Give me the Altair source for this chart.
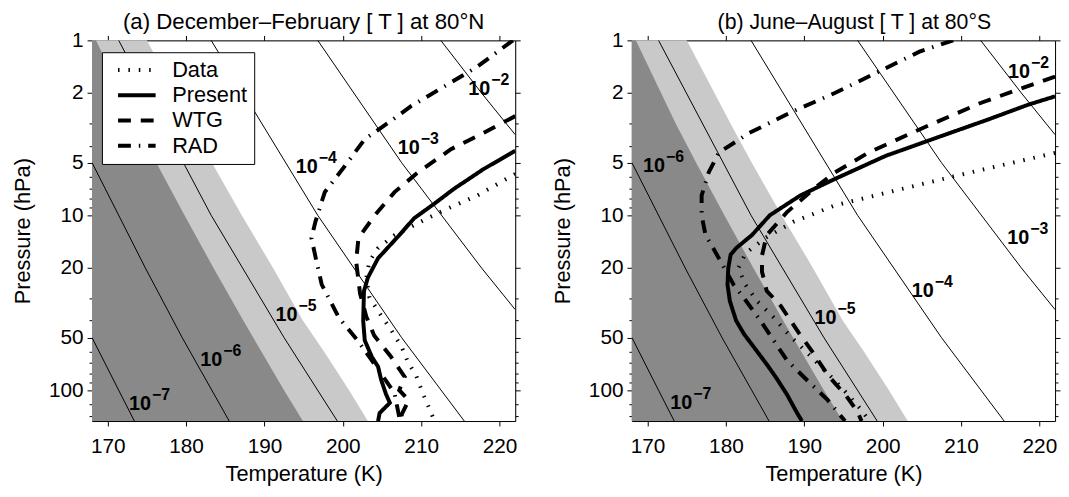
import altair as alt
import pandas as pd

FONT = "Liberation Sans"

T_MIN, T_MAX = 168, 222
P_MIN, P_MAX = 1, 150
X_TICKS = [170, 180, 190, 200, 210, 220]
Y_TICKS = [1, 2, 3, 4, 5, 6, 7, 8, 9, 10, 20, 30, 40, 50, 60, 70, 80, 90, 100, 120, 140]

# shaded regions (boundaries)
shade_p = [1, 1, 3, 5, 10, 20, 40, 60, 100, 150]
ice_T = [168.0, 168.5, 173.6, 176.2, 179.8, 183.5, 187.3, 189.6, 192.5, 194.9]
nat_T = [168.0, 175.0, 180.6, 183.3, 187.1, 191.1, 194.9, 197.6, 200.8, 203.2]

# thin isolines
iso_names = ["-7", "-6", "-5", "-4", "-3", "-2"]
iso_T = [
    [168.0, 171.4, 173.4],
    [168.0, 174.8, 179.5, 185.5],
    [171.4, 183.2, 192.5, 199.3],
    [183.2, 196.8, 207.5, 215.5],
    [196.8, 207.5, 217.7, 222.0],
    [212.5, 217.7, 222.0],
]
iso_p = [
    [50, 100, 150],
    [5, 20, 50, 150],
    [1, 10, 50, 150],
    [1, 10, 50, 150],
    [1, 5, 20, 34.6],
    [1, 2, 3.46],
]

series_names = ["Data", "Present", "WTG", "RAD"]

# panel (a) December-February, 80N
a_data_T = [222.0, 220.9, 217.2, 213.4, 210.8, 206.6, 204.5, 203.4, 203.0, 203.4, 204.9, 206.2, 207.5, 208.3, 209.4, 210.2, 211.1, 211.7]
a_data_p = [5.8, 6.19, 7.69, 9.14, 10.4, 13.0, 15.4, 18.3, 22.7, 29.5, 37.5, 45.5, 56.5, 68.8, 83.5, 104, 129, 150]
a_present_T = [222.0, 218.0, 214.2, 211.7, 209.1, 207.2, 204.5, 203.2, 202.7, 202.6, 202.8, 203.7, 204.5, 204.9, 205.5, 206.0, 204.7, 204.5]
a_present_p = [4.28, 5.43, 7.05, 8.57, 10.4, 13.0, 17.6, 22.7, 27.1, 40.0, 51.9, 64.4, 73.4, 87.4, 105, 118, 135, 150]
a_wtg_T = [222.0, 218.0, 213.8, 209.6, 206.6, 204.1, 202.0, 201.7, 202.2, 203.0, 204.0, 206.1, 207.9, 207.2, 208.4, 207.5, 207.6]
a_wtg_p = [2.71, 3.37, 4.19, 5.68, 7.37, 9.97, 13.5, 18.3, 28.0, 38.0, 48.6, 63.9, 84.0, 100, 114, 138, 150]
a_rad_T = [221.7, 217.1, 212.9, 208.7, 205.8, 202.8, 200.3, 197.7, 196.5, 196.0, 196.6, 197.3, 199.5, 201.9, 204.3, 206.6, 207.3]
a_rad_p = [1.0, 1.42, 1.84, 2.38, 2.96, 3.67, 5.2, 7.37, 10.9, 13.5, 18.0, 24.8, 38.5, 52.0, 73.8, 104, 150]

# panel (b) June-August, 80S
b_data_T = [222.0, 211.2, 202.5, 193.9, 188.6, 185.0, 182.5, 181.6, 182.5, 184.0, 186.0, 188.0, 190.5, 193.0, 195.5, 197.3, 198.3]
b_data_p = [4.4, 5.69, 7.06, 8.78, 10.9, 13.5, 16.5, 20, 25, 31, 38, 48, 62, 80, 105, 130, 150]
b_present_T = [222.0, 218.6, 213.4, 206.9, 200.4, 193.9, 189.5, 185.6, 183.3, 181.3, 180.6, 180.3, 180.2, 180.5, 181.3, 182.3, 183.9, 185.3, 186.5, 187.8, 189.0, 189.7]
b_present_p = [2.09, 2.33, 2.84, 3.60, 4.57, 6.2, 7.7, 10.0, 13.0, 15.4, 16.8, 20.0, 24.9, 30.9, 40.0, 47.7, 59.4, 72, 86, 106, 133, 150]
b_wtg_T = [222.0, 217.7, 212.5, 204.7, 198.2, 193.9, 191.7, 187.8, 185.2, 184.6, 184.6, 185.2, 187.0, 189.3, 191.0, 193.1, 195.3, 196.8, 197.3]
b_wtg_p = [1.61, 1.88, 2.28, 3.23, 4.38, 5.69, 6.77, 9.58, 13.0, 17.0, 21.0, 27.0, 33.0, 47.0, 60.0, 83.0, 107, 133, 150]
b_rad_T = [209.0, 204.7, 199.5, 193.9, 188.6, 183.0, 179.1, 177.8, 176.9, 176.9, 177.4, 178.4, 179.8, 181.0, 182.6, 184.4, 186.1, 187.8, 190.4, 193.0, 195.2]
b_rad_p = [1.0, 1.16, 1.51, 2.0, 2.54, 3.38, 4.38, 5.69, 7.7, 10.0, 13.0, 15.5, 20.0, 25.0, 31.0, 40.0, 52.0, 67.6, 88.0, 114, 150]

# isoline labels: exponent, T, p
a_lab_exp = ["-7", "-6", "-5", "-4", "-3", "-2"]
a_lab_T = [175.2, 184.3, 193.9, 196.5, 209.5, 218.5]
a_lab_p = [115, 64.3, 35.8, 5.09, 3.97, 1.82]
b_lab_exp = ["-2", "-3", "-4", "-5", "-6", "-7"]
b_lab_T = [218.5, 218.4, 206.2, 193.8, 171.9, 175.4]
b_lab_p = [1.46, 13.0, 26.2, 37.2, 5.02, 114]


def lines_frame(names, Ts, ps):
    rows = []
    for n, tl, pl in zip(names, Ts, ps):
        for i, (t, p) in enumerate(zip(tl, pl)):
            rows.append({"name": n, "T": t, "p": p, "idx": i})
    return pd.DataFrame(rows)


dark_df = pd.DataFrame({"T": ice_T, "p": shade_p, "pb": [P_MAX] * len(shade_p)})
light_df = pd.DataFrame({"T": nat_T, "p": shade_p, "pb": [P_MAX] * len(shade_p)})
iso_df = lines_frame(iso_names, iso_T, iso_p)

xscale = alt.Scale(domain=[T_MIN, T_MAX], nice=False, zero=False)
yscale = alt.Scale(type="log", domain=[P_MIN, P_MAX], reverse=True, nice=False)
major_test = "indexof([1,2,5,10,20,50,100], datum.value) >= 0"
tick_cond = {"condition": {"test": major_test, "value": 5}, "value": 3}

x_bottom = alt.Axis(orient="bottom", values=X_TICKS, title="Temperature (K)", grid=False,
                    tickSize=5, tickColor="black", domainColor="black", labelFont=FONT,
                    labelFontSize=21, labelColor="black", labelPadding=10, titleFont=FONT,
                    titleFontSize=22, titleFontWeight="normal", titleColor="black", titlePadding=7)
x_top = alt.Axis(orient="top", values=X_TICKS, title=None, labels=False, grid=False,
                 tickSize=5, tickColor="black", domainColor="black")
y_left = alt.Axis(orient="left", values=Y_TICKS, title="Pressure (hPa)", grid=False,
                  tickSize=tick_cond, tickColor="black", domainColor="black",
                  labelExpr=major_test + " ? format(datum.value, 'd') : ''",
                  labelFont=FONT, labelFontSize=21, labelColor="black", labelPadding=4,
                  titleFont=FONT, titleFontSize=22, titleFontWeight="normal",
                  titleColor="black", titlePadding=14)
y_right = alt.Axis(orient="right", values=Y_TICKS, title=None, labels=False, grid=False,
                   tickSize=tick_cond, tickColor="black", domainColor="black")


def panel(title, prof, labs, show_legend, title_size, title_dx):
    light = alt.Chart(light_df).mark_area(color="#c9c9c9", opacity=1).encode(
        x=alt.X("T:Q", scale=xscale, axis=x_bottom),
        y=alt.Y("p:Q", scale=yscale, axis=y_left),
        y2="pb:Q",
    )
    dark = alt.Chart(dark_df).mark_area(color="#898989", opacity=1).encode(
        x=alt.X("T:Q", scale=xscale, axis=None),
        y=alt.Y("p:Q", scale=yscale, axis=None),
        y2="pb:Q",
    )
    iso = alt.Chart(iso_df).mark_line(color="black", strokeWidth=1, clip=True).encode(
        x=alt.X("T:Q", scale=xscale, axis=None),
        y=alt.Y("p:Q", scale=yscale, axis=None),
        detail="name:N",
        order="idx:Q",
    )
    prof_df = lines_frame(series_names, [prof[0][0], prof[1][0], prof[2][0], prof[3][0]],
                          [prof[0][1], prof[1][1], prof[2][1], prof[3][1]])
    if show_legend:
        leg = alt.Legend(title=None, orient="none", legendX=10, legendY=12,
                         fillColor="white", strokeColor="black", padding=7,
                         symbolType="M-2.375,0L2.375,0", symbolSize=256, symbolStrokeWidth=4,
                         symbolOffset=17.3,
                         symbolStrokeColor="black", labelFont=FONT, labelFontSize=22,
                         labelColor="black", labelOffset=24.7, rowPadding=3.5)
    else:
        leg = None
    prof_chart = alt.Chart(prof_df).mark_line(color="black", strokeWidth=4, clip=True).encode(
        x=alt.X("T:Q", scale=xscale, axis=None),
        y=alt.Y("p:Q", scale=yscale, axis=None),
        strokeDash=alt.StrokeDash("name:N", scale=alt.Scale(
            domain=series_names,
            range=[[1.5, 9], [1, 0], [13, 10], [13, 8, 1.5, 8]]), legend=leg),
        order="idx:Q",
    )
    lab_df = pd.DataFrame({"T": labs[1], "p": labs[2], "base": ["10"] * len(labs[0]),
                           "exp": [e.replace("-", "\u2212") for e in labs[0]]})
    lab_base = alt.Chart(lab_df).mark_text(font=FONT, fontSize=20, fontWeight="bold",
                                           align="right", baseline="middle", dx=2.5, dy=3,
                                           color="black").encode(
        x=alt.X("T:Q", scale=xscale, axis=None), y=alt.Y("p:Q", scale=yscale, axis=None),
        text="base:N")
    lab_exp = alt.Chart(lab_df).mark_text(font=FONT, fontSize=16, fontWeight="bold",
                                          align="left", baseline="middle", dx=3.5, dy=-6,
                                          color="black").encode(
        x=alt.X("T:Q", scale=xscale, axis=None), y=alt.Y("p:Q", scale=yscale, axis=None),
        text="exp:N")
    mirror = alt.Chart(dark_df).mark_point(opacity=0, size=1).encode(
        x=alt.X("T:Q", scale=xscale, axis=x_top),
        y=alt.Y("p:Q", scale=yscale, axis=y_right),
    )
    return alt.layer(light, dark, iso, prof_chart, lab_base, lab_exp, mirror).resolve_axis(
        x="independent", y="independent").properties(
        width=428, height=385,
        title=alt.TitleParams(title, font=FONT, fontSize=title_size, fontWeight="normal",
                              color="black", anchor="middle", offset=-4, dx=title_dx))


pa = panel("(a) December\u2013February [ T ] at 80\u00b0N",
           [(a_data_T, a_data_p), (a_present_T, a_present_p), (a_wtg_T, a_wtg_p), (a_rad_T, a_rad_p)],
           (a_lab_exp, a_lab_T, a_lab_p), True, 22.5, 0)
pb = panel("(b) June\u2013August [ T ] at 80\u00b0S",
           [(b_data_T, b_data_p), (b_present_T, b_present_p), (b_wtg_T, b_wtg_p), (b_rad_T, b_rad_p)],
           (b_lab_exp, b_lab_T, b_lab_p), False, 21.5, 11)

chart = alt.hconcat(pa, pb, spacing=30).resolve_scale(strokeDash="independent").resolve_legend(
    strokeDash="independent").properties(
    padding={"left": 3, "top": 0, "right": 0, "bottom": 0}
).configure_view(stroke="black", strokeWidth=1).configure(background="white")

chart.save("out.html", embed_options={"renderer": "svg", "actions": False})
